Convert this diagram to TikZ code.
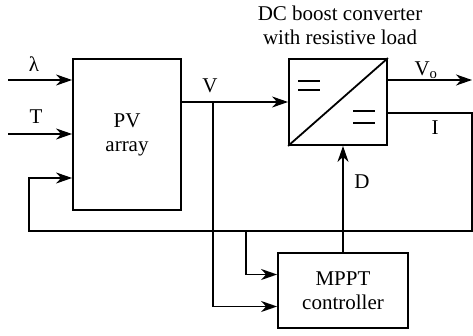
\documentclass[tikz,border=0pt]{standalone}
\usepackage{fontspec}
\setmainfont{Liberation Serif}
\usepackage{tikz}
\usetikzlibrary{arrows.meta, positioning, calc}
\tikzset{
  blk/.style ={rectangle, draw, line width=1.8pt, align=center, inner sep=0pt},
  fl/.style  ={-{Stealth[length=16pt, width=11pt, inset=5pt]}, line width=1.8pt},
  ln/.style  ={line width=1.8pt},
  lbl/.style ={inner sep=0pt, align=center},
}

\begin{document}
\begin{tikzpicture}[x=1pt, y=-1pt, font=\fontsize{21}{24}\selectfont]
  \useasboundingbox (0,0) rectangle (473,336);
  \node[blk, minimum width=108pt, minimum height=151pt] (pv) at (127,134.5) {PV\\array};
  \node[blk, minimum width=98pt, minimum height=86pt] (conv) at (338,102) {};
  \node[blk, minimum width=130pt, minimum height=75pt] (mppt) at (343,290.5) {MPPT\\controller};
  \node[lbl] (ttl) at (340,25) {DC boost converter\\with resistive load};
  % converter symbol
  \draw[ln] (conv.south west) -- (conv.north east);
  \draw[ln] ($(conv.north west)+(10,23)$) -- ++(22,0);
  \draw[ln] ($(conv.north west)+(10,32)$) -- ++(22,0);
  \draw[ln] ($(conv.north west)+(65,53)$) -- ++(22,0);
  \draw[line width=2.6pt] ($(conv.north west)+(65,65)$) -- ++(22,0);
  % inputs
  \coordinate (lin) at (8,80);
  \coordinate (tin) at (8,134);
  \draw[fl] (lin) -- (lin -| pv.west);
  \draw[fl] (tin) -- (tin -| pv.west);
  \node[lbl] (lam) at (34,64) {λ};
  \node[lbl] (tl) at (36,117) {T};
  % voltage
  \draw[fl] (pv.east |- conv.west) -- (conv.west);
  \node[lbl] (vl) at (210,86) {V};
  \coordinate (vb) at (213,102);
  \draw[fl] (vb) |- ([yshift=-16pt]mppt.west);
  % output
  \coordinate (vo) at (472,80);
  \draw[fl] ([yshift=22pt]conv.east) -- (vo);
  \node[lbl] (vol) at (426,70) {V\textsubscript{o}};
  % current feedback
  \coordinate (iR) at (472,231);
  \coordinate (iL) at (29,231);
  \coordinate (ib) at (246,231);
  \draw[fl] ([yshift=-11pt]conv.east) -| (iR) -- (iL) |- ([yshift=-43.5pt]pv.west);
  \draw[fl] (ib) |- ([yshift=16pt]mppt.west);
  \node[lbl] (il) at (435,128) {I};
  % duty
  \draw[fl] (mppt.north) -- (mppt.north |- conv.south);
  \node[lbl] (dl) at (362,182) {D};
\end{tikzpicture}
\end{document}
